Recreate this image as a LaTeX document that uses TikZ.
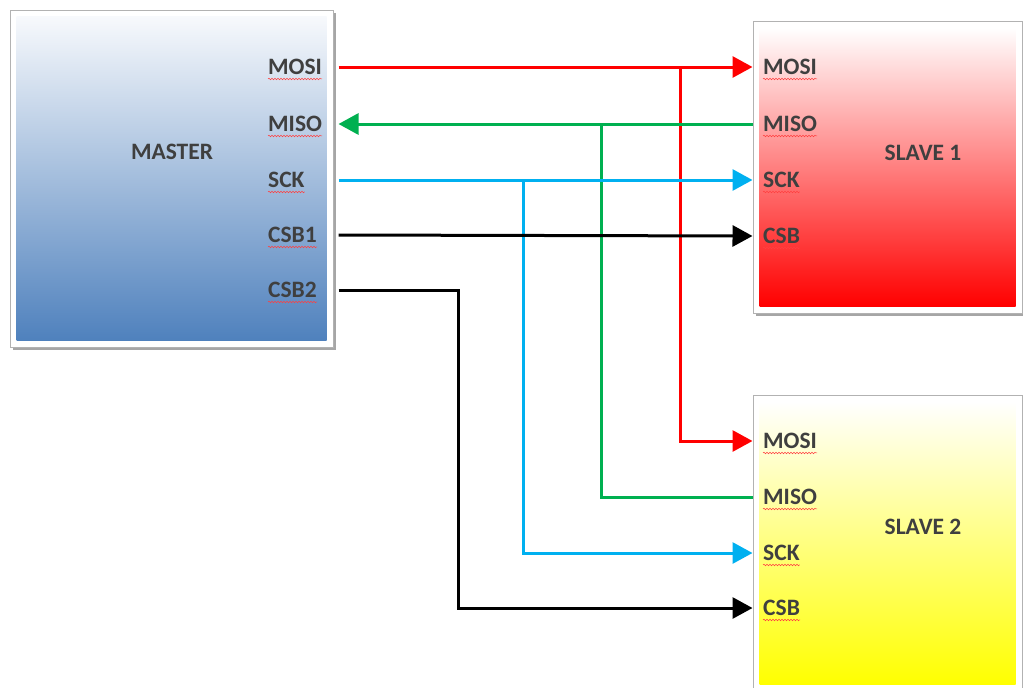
\documentclass[tikz,border=0pt]{standalone}
\usepackage{fontspec}
\setmainfont{Carlito}
\usetikzlibrary{arrows.meta,shadows,decorations.pathmorphing,calc}
\definecolor{txt}{HTML}{3F3F3F}
\definecolor{wred}{HTML}{FF0000}
\definecolor{wgreen}{HTML}{00B050}
\definecolor{wblue}{HTML}{00B0F0}
\definecolor{steel}{HTML}{4F81BD}
\definecolor{mtop}{HTML}{F7F9FC}
\begin{document}
\begin{tikzpicture}[x=1pt,y=-1pt,
  box/.style={draw=gray!60,line width=1pt,fill=white,inner sep=0pt,
    drop shadow={shadow xshift=3pt,shadow yshift=-3pt,opacity=0.35,fill=black}},
  squig/.style={draw=red!75,line width=0.5pt,decorate,
    decoration={snake,amplitude=0.8pt,segment length=3pt}},
  port/.style={anchor=west,inner sep=0pt,text=txt,
    font=\bfseries\fontsize{23.5}{23.5}\selectfont,
    append after command={([yshift=-4pt]\tikzlastnode.south west) edge[squig] ([yshift=-4pt]\tikzlastnode.south east)}},
  title/.style={inner sep=0pt,text=txt,font=\bfseries\fontsize{23.5}{23.5}\selectfont},
  wire/.style={line width=3pt},
  tip/.style={-{Triangle[length=20pt,width=21pt]}}
]
\useasboundingbox (0,0) rectangle (1023,688);

% boxes
\node[box,minimum width=323pt,minimum height=337pt] (master) at (171.5,178.5) {};
\shade[top color=mtop,bottom color=steel] ($(master.north west)+(7,7)$) rectangle ($(master.south east)+(-7,-7)$);
\node[box,minimum width=269pt,minimum height=292pt] (s1) at (887.5,167) {};
\shade[top color=white,bottom color=wred] ($(s1.north west)+(7,7)$) rectangle ($(s1.south east)+(-7,-7)$);
\node[box,minimum width=269pt,minimum height=293pt] (s2) at (887.5,541.5) {};
\shade[top color=white,bottom color=yellow] ($(s2.north west)+(7,7)$) rectangle ($(s2.south east)+(-7,-4)$);

% titles
\node[title] (tm) at (172,152) {MASTER};
\node[title] (t1) at (923,153) {SLAVE 1};
\node[title] (t2) at (923,527) {SLAVE 2};

% master ports
\node[port] (mmosi) at (268,67) {MOSI};
\node[port] (mmiso) at (268,124) {MISO};
\node[port] (msck)  at (268,180) {SCK};
\node[port] (mcsb1) at (268,235) {CSB1};
\node[port] (mcsb2) at (268,290) {CSB2};

% slave 1 ports
\node[port] (s1mosi) at (763,67) {MOSI};
\node[port] (s1miso) at (763,124) {MISO};
\node[port] (s1sck)  at (763,180) {SCK};
\node[port] (s1csb)  at (763,236) {CSB};

% slave 2 ports
\node[port] (s2mosi) at (763,441) {MOSI};
\node[port] (s2miso) at (763,497) {MISO};
\node[port] (s2sck)  at (763,553) {SCK};
\node[port] (s2csb)  at (763,608) {CSB};

% branch points
\coordinate (rb) at (680,67);
\coordinate (gb) at (601,124);
\coordinate (bb) at (523,180);
\coordinate (kb) at (458,290);

% wires
\draw[wire,wred,tip] ($(master.east |- mmosi)+(5,0)$) -- (s1.west |- s1mosi);
\draw[wire,wred,tip] (rb) |- (s2.west |- s2mosi);

\draw[wire,wgreen,tip] (s1.west |- s1miso) -- ($(master.east |- mmiso)+(5,0)$);
\draw[wire,wgreen] (gb) |- (s2.west |- s2miso);

\draw[wire,wblue,tip] ($(master.east |- msck)+(5,0)$) -- (s1.west |- s1sck);
\draw[wire,wblue,tip] (bb) |- (s2.west |- s2sck);

\draw[wire,black,tip] ($(master.east |- mcsb1)+(5,0)$) -- (s1.west |- s1csb);
\draw[wire,black,tip] ($(master.east |- mcsb2)+(5,0)$) -- (kb) |- (s2.west |- s2csb);
\end{tikzpicture}
\end{document}
